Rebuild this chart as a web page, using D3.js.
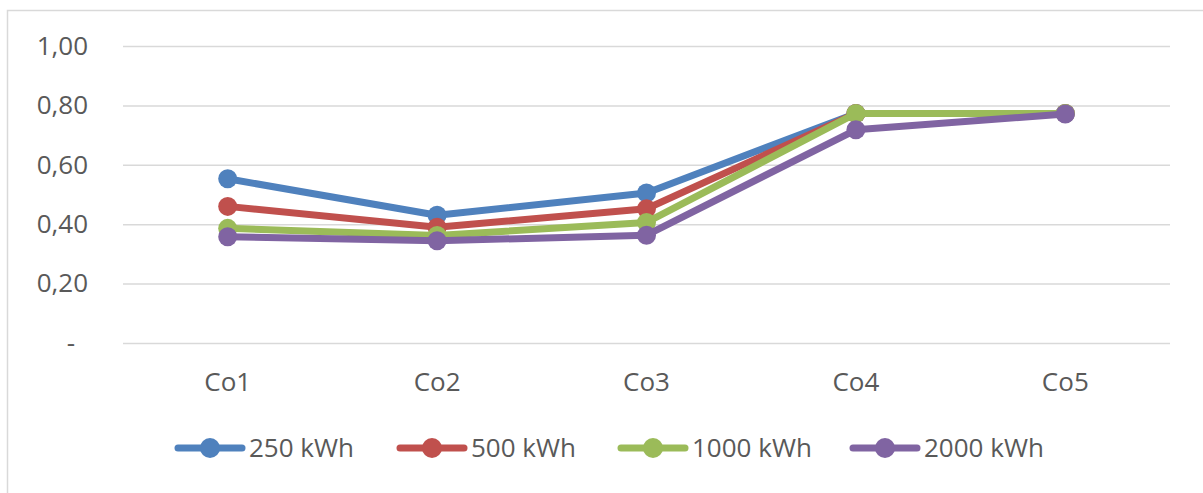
<!DOCTYPE html>
<html><head><meta charset="utf-8">
<script src="https://cdn.jsdelivr.net/npm/d3@7"></script>
<style>body{margin:0;background:#fff}svg{display:block}</style>
</head><body>
<svg id="c" width="1203" height="493"></svg>
<script>
const categories = ["Co1","Co2","Co3","Co4","Co5"];
const seriesNames = ["250 kWh","500 kWh","1000 kWh","2000 kWh"];
const s250  = [0.553, 0.430, 0.505, 0.773, 0.773];
const s500  = [0.460, 0.390, 0.452, 0.773, 0.773];
const s1000 = [0.386, 0.362, 0.406, 0.773, 0.773];
const s2000 = [0.358, 0.344, 0.363, 0.718, 0.771];
const yTicks = [0, 0.2, 0.4, 0.6, 0.8, 1.0];
const colors = ["#4F81BD","#C0504D","#9BBB59","#8064A2"];
const seriesValues = [s250, s500, s1000, s2000];

const svg = d3.select("#c");
const font = "'Open Sans', 'Liberation Sans', sans-serif";
const fs = 26;
svg.append("rect").attr("x",7.5).attr("y",10.5).attr("width",1210).attr("height",500)
  .attr("fill","#fff").attr("stroke","#d9d9d9").attr("stroke-width",1.5);

const pLeft = 123, pRight = 1170, pTop = 46, pBottom = 343;
const x = d3.scaleBand().domain(categories).range([pLeft, pRight]);
const y = d3.scaleLinear().domain([0, 1]).range([pBottom, pTop]);

const fmt = v => v === 0 ? "-" : d3.format(".2f")(v).replace(".", ",");
const yAxis = d3.axisLeft(y).tickValues(yTicks).tickFormat(fmt).tickSize(-(pRight-pLeft)).tickPadding(35);
const gy = svg.append("g").attr("transform",`translate(${pLeft},0)`).call(yAxis);
gy.select(".domain").remove();
gy.selectAll(".tick line").attr("stroke","#d9d9d9").attr("stroke-width",1.5);
gy.selectAll(".tick text").attr("fill","#595959").attr("font-size",fs).attr("font-family",font);
gy.selectAll(".tick text").filter(d => d === 0).attr("x", -48);

const xAxis = d3.axisBottom(x).tickSize(0).tickPadding(30);
const gx = svg.append("g").attr("transform",`translate(0,${pBottom})`).call(xAxis);
gx.select(".domain").remove();
gx.selectAll(".tick text").attr("fill","#595959").attr("font-size",fs).attr("font-family",font);

const cx = c => x(c) + x.bandwidth()/2;
const line = d3.line().x((d,i)=>cx(categories[i])).y(d=>y(d));
seriesValues.forEach((vals, k) => {
  const g = svg.append("g");
  g.append("path").datum(vals).attr("d", line).attr("fill","none")
    .attr("stroke", colors[k]).attr("stroke-width", 7).attr("stroke-linejoin","round");
  g.selectAll("circle").data(vals).join("circle")
    .attr("cx",(d,i)=>cx(categories[i])).attr("cy",d=>y(d)).attr("r",9.5).attr("fill",colors[k]);
});

// legend
const legX = [175, 397, 618, 850];
const legY = 448;
seriesNames.forEach((n,k) => {
  const g = svg.append("g").attr("transform",`translate(${legX[k]},${legY})`);
  g.append("line").attr("x1",3).attr("x2",67).attr("y1",0).attr("y2",0)
    .attr("stroke",colors[k]).attr("stroke-width",7).attr("stroke-linecap","round");
  g.append("circle").attr("cx",35).attr("cy",0).attr("r",10).attr("fill",colors[k]);
  g.append("text").attr("x",74).attr("y",0).attr("dy","0.36em").text(n)
    .attr("fill","#595959").attr("font-size",fs).attr("font-family",font);
});
</script>
</body></html>
